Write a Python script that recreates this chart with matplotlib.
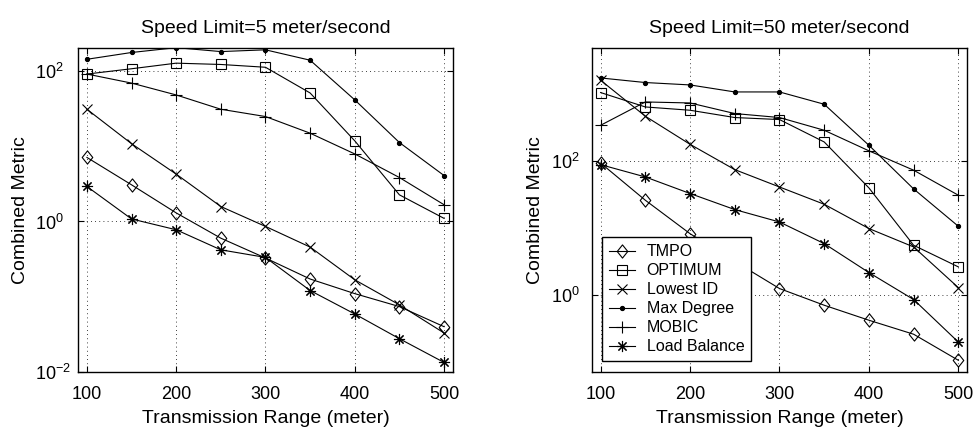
import matplotlib
matplotlib.use("Agg")
import matplotlib.pyplot as plt
from matplotlib.path import Path
from matplotlib.ticker import NullLocator

plt.rcParams['font.family'] = ['Liberation Sans', 'DejaVu Sans']
plt.rcParams['mathtext.fontset'] = 'custom'
plt.rcParams['mathtext.rm'] = 'Liberation Sans'
plt.rcParams['mathtext.it'] = 'Liberation Sans'

ranges = [100, 150, 200, 250, 300, 350, 400, 450, 500]

# Speed limit 5 m/s
slow_tmpo = [7.1, 3.07, 1.3, 0.60, 0.327, 0.172, 0.11, 0.074, 0.040]
slow_optimum = [91, 107, 127, 122, 112, 51, 11.8, 2.26, 1.1]
slow_lowest_id = [31, 10.8, 4.26, 1.58, 0.86, 0.457, 0.168, 0.078, 0.033]
slow_max_degree = [143, 176, 204, 181, 191, 139, 41.3, 11.2, 4.08]
slow_mobic = [91, 69, 48, 31, 24.8, 14.9, 7.9, 3.84, 1.67]
slow_load_balance = [2.92, 1.08, 0.776, 0.42, 0.333, 0.121, 0.059, 0.0277, 0.0134]

# Speed limit 50 m/s
fast_tmpo = [94, 26.2, 8.3, 3.2, 1.26, 0.71, 0.424, 0.262, 0.107]
fast_optimum = [1060, 646, 577, 449, 419, 194, 40, 5.57, 2.65]
fast_lowest_id = [1618, 470, 179, 75, 41.3, 22.8, 9.9, 5.26, 1.30]
fast_max_degree = [1750, 1495, 1377, 1082, 1082, 709, 173, 38.6, 10.7]
fast_mobic = [344, 767, 741, 515, 449, 290, 143, 73.5, 31.1]
fast_load_balance = [89, 58.3, 33, 19, 12.4, 5.9, 2.18, 0.863, 0.20]

labels = ['TMPO', 'OPTIMUM', 'Lowest ID', 'Max Degree', 'MOBIC', 'Load Balance']

# diamond slightly taller than wide
diamond = Path([(0, 1), (0.8, 0), (0, -1), (-0.8, 0), (0, 1)],
               [Path.MOVETO, Path.LINETO, Path.LINETO, Path.LINETO, Path.CLOSEPOLY])
markers = [diamond, 's', 'x', '.', '+', (8, 2, 0)]
msizes = [9.5, 7.5, 6.5, 6, 8.5, 8]
faces = ['none', 'none', 'none', 'black', 'none', 'none']

slow = [slow_tmpo, slow_optimum, slow_lowest_id, slow_max_degree, slow_mobic, slow_load_balance]
fast = [fast_tmpo, fast_optimum, fast_lowest_id, fast_max_degree, fast_mobic, fast_load_balance]

fig = plt.figure(figsize=(9.76, 4.30), dpi=100)
ax1 = fig.add_axes([0.0799, 0.1349, 0.3842, 0.7535])
ax2 = fig.add_axes([0.6062, 0.1349, 0.3849, 0.7535])

FS = 14
TICK_FS = 13


def draw(ax, series, title, ylim, yticks, yticklabels, ypad, ylab_x):
    for vals, lab, mk, ms, fc in zip(series, labels, markers, msizes, faces):
        ax.plot(ranges, vals, color='black', lw=0.8, marker=mk, ms=ms,
                mfc=fc, mec='black', mew=0.8, label=lab)
    ax.set_yscale('log')
    ax.set_xlim(90, 510)
    ax.set_ylim(*ylim)
    ax.set_xticks([100, 200, 300, 400, 500])
    ax.set_yticks(yticks)
    ax.set_yticklabels(yticklabels)
    ax.yaxis.set_minor_locator(NullLocator())
    ax.grid(True, which='major', color='black', ls=(0, (1, 4)), lw=0.6)
    ax.tick_params(which='both', direction='in', top=True, right=True,
                   length=4, width=0.8, labelsize=TICK_FS)
    ax.tick_params(axis='x', pad=10)
    # power-of-ten labels start at a common left edge
    ax.tick_params(axis='y', pad=ypad)
    for lbl in ax.get_yticklabels():
        lbl.set_horizontalalignment('left')
    for s in ax.spines.values():
        s.set_linewidth(1.0)
    ax.set_title(title, fontsize=FS, pad=11)
    ax.set_xlabel('Transmission Range (meter)', fontsize=FS, labelpad=5)
    ax.set_ylabel('Combined Metric', fontsize=FS)
    ax.yaxis.set_label_coords(ylab_x, 0.5)


draw(ax1, slow, 'Speed Limit=5 meter/second', (0.01, 202),
     [1e-2, 1e0, 1e2], [r'$10^{-2}$', r'$10^{0}$', r'$10^{2}$'], 31, -0.131)
draw(ax2, fast, 'Speed Limit=50 meter/second', (0.0716, 4900),
     [1e0, 1e2], [r'$10^{0}$', r'$10^{2}$'], 29.3, -0.127)

leg = ax2.legend(loc='lower left', bbox_to_anchor=(0.027, 0.033), fontsize=11.5,
                 frameon=True, fancybox=False, edgecolor='black', framealpha=1,
                 borderpad=0.45, labelspacing=0.25, handlelength=1.6,
                 handletextpad=0.75, borderaxespad=0, numpoints=1)
leg.get_frame().set_linewidth(1.0)

fig.savefig('out.png', dpi=100)
